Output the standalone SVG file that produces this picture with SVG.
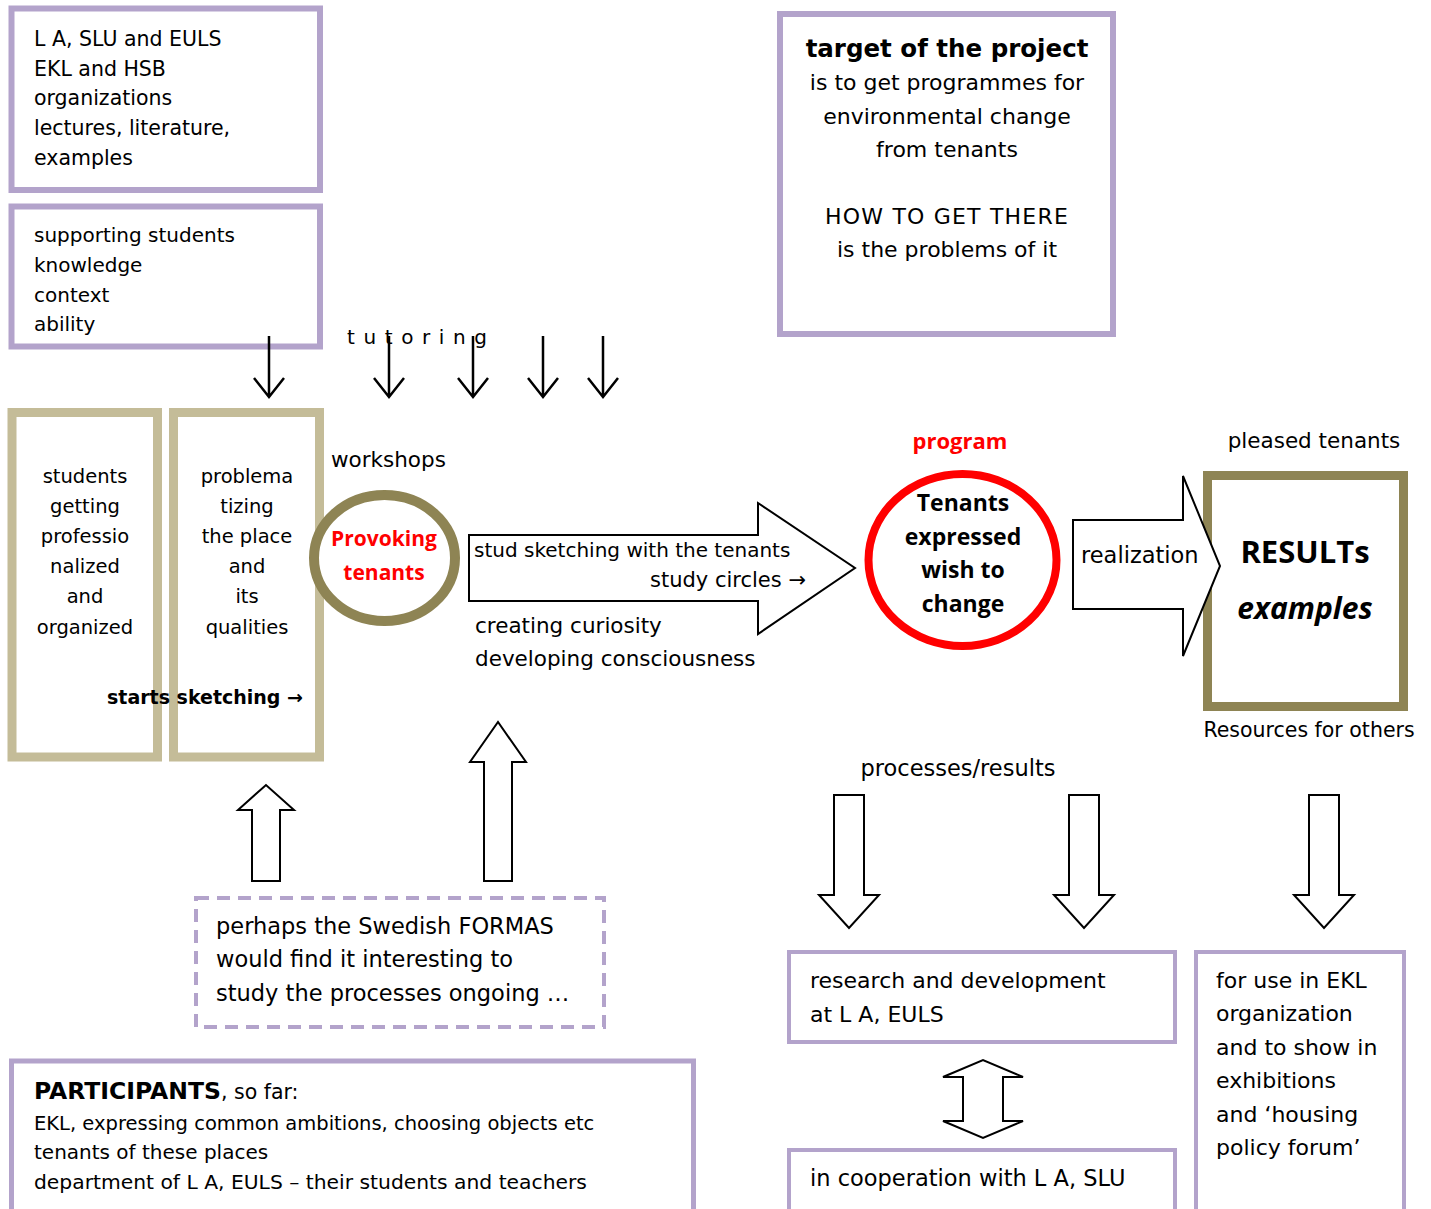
<svg xmlns="http://www.w3.org/2000/svg" width="1431" height="1209" viewBox="0 0 1431 1209">
<style>
text{font-family:"DejaVu Sans","Open Sans",sans-serif;fill:#000}
.os{font-family:"Open Sans","DejaVu Sans",sans-serif}
.b{font-weight:bold}
.red{fill:#ff0000}
.c{text-anchor:middle}
.pbox{fill:#fff;stroke:#b3a3cb;stroke-width:6}
.pbox4{fill:#fff;stroke:#b3a3cb;stroke-width:4}
.tbox{fill:#fff;stroke:#c4bc98;stroke-width:9}
.blk{fill:#fff;stroke:#000;stroke-width:2;stroke-linejoin:miter}
.ln{fill:none;stroke:#000;stroke-width:2.5}
</style>
<rect width="1431" height="1209" fill="#fff"/>

<g id="box-resources" style="font-size:20.5px">
<rect class="pbox" x="11.5" y="8.5" width="308.5" height="181.5"/>
<text x="34" y="46">L A, SLU and EULS</text>
<text x="34" y="75.5">EKL and HSB</text>
<text x="34" y="105">organizations</text>
<text x="34" y="134.5">lectures, literature,</text>
<text x="34" y="164.5">examples</text>
</g>

<g id="box-supporting" style="font-size:20px">
<rect class="pbox" x="11.5" y="206.5" width="308.5" height="140"/>
<text x="34" y="242">supporting students</text>
<text x="34" y="272">knowledge</text>
<text x="34" y="302">context</text>
<text x="34" y="331">ability</text>
</g>

<g id="box-target" style="font-size:22px">
<rect class="pbox" x="780" y="14" width="333" height="320"/>
<text class="b c" style="font-size:24.5px" x="947" y="57">target of the project</text>
<text class="c" x="947" y="90">is to get programmes for</text>
<text class="c" x="947" y="124">environmental change</text>
<text class="c" x="947" y="157">from tenants</text>
<text class="c" x="947" y="224" style="letter-spacing:1.2px">HOW TO GET THERE</text>
<text class="c" x="947" y="257">is the problems of it</text>
</g>

<g id="label-tutoring">
<text x="347" y="344" style="font-size:20px;letter-spacing:8.6px">tutoring</text>
</g>

<g id="box-students" style="font-size:19.5px">
<rect class="tbox" x="12" y="412.5" width="145.5" height="344.5"/>
<text class="c" x="85" y="483">students</text>
<text class="c" x="85" y="513">getting</text>
<text class="c" x="85" y="543">professio</text>
<text class="c" x="85" y="573">nalized</text>
<text class="c" x="85" y="603">and</text>
<text class="c" x="85" y="634">organized</text>
</g>

<g id="box-problematizing" style="font-size:19.5px">
<rect class="tbox" x="173.5" y="412.5" width="146" height="344.5"/>
<text class="c" x="247" y="483">problema</text>
<text class="c" x="247" y="513">tizing</text>
<text class="c" x="247" y="543">the place</text>
<text class="c" x="247" y="573">and</text>
<text class="c" x="247" y="603">its</text>
<text class="c" x="247" y="634">qualities</text>
</g>

<g id="label-starts-sketching">
<text class="b" style="font-size:19px" x="107" y="704">starts sketching →</text>
</g>

<g id="label-workshops">
<text style="font-size:21.5px" x="331" y="467">workshops</text>
</g>

<g id="node-provoking">
<ellipse cx="384.5" cy="558" rx="70.5" ry="63" fill="#fff" stroke="#8e8454" stroke-width="10"/>
<text class="os b red c" style="font-size:21px" x="384" y="546">Provoking</text>
<text class="os b red c" style="font-size:21px" x="384" y="580">tenants</text>
</g>

<g id="label-program">
<text class="os b red c" style="font-size:22px" x="960" y="449">program</text>
</g>

<g id="node-tenants-wish">
<ellipse cx="962.5" cy="560" rx="94" ry="86" fill="#fff" stroke="#ff0000" stroke-width="8"/>
<text class="os b c" style="font-size:23px" x="963" y="511">Tenants</text>
<text class="os b c" style="font-size:23px" x="963" y="545">expressed</text>
<text class="os b c" style="font-size:23px" x="963" y="578">wish to</text>
<text class="os b c" style="font-size:23px" x="963" y="612">change</text>
</g>

<g id="label-pleased">
<text class="c" style="font-size:21.5px" x="1314" y="448">pleased tenants</text>
</g>

<g id="node-results">
<rect x="1207.5" y="475.5" width="196" height="231" fill="#fff" stroke="#8e8454" stroke-width="9"/>
<text class="os b c" style="font-size:31px" x="1305" y="563">RESULTs</text>
<text class="os b c" style="font-size:30px;font-style:italic" x="1305" y="619">examples</text>
</g>

<g id="label-resources-others">
<text class="c" style="font-size:20.5px" x="1309" y="737">Resources for others</text>
</g>

<g id="label-processes">
<text class="c" style="font-size:22.5px" x="958" y="776">processes/results</text>
</g>

<g id="box-rd" style="font-size:22px">
<rect class="pbox4" x="789" y="952" width="386" height="90"/>
<text x="810" y="988">research and development</text>
<text x="810" y="1022">at L A, EULS</text>
</g>

<g id="box-cooperation" style="font-size:22.5px">
<rect class="pbox4" x="789" y="1150" width="386" height="80"/>
<text x="810" y="1186">in cooperation with L A, SLU</text>
</g>

<g id="box-ekl" style="font-size:22px">
<rect class="pbox4" x="1196" y="952" width="208" height="280"/>
<text x="1216" y="988">for use in EKL</text>
<text x="1216" y="1021">organization</text>
<text x="1216" y="1055">and to show in</text>
<text x="1216" y="1088">exhibitions</text>
<text x="1216" y="1122">and ‘housing</text>
<text x="1216" y="1155">policy forum’</text>
</g>

<g id="box-formas" style="font-size:22.5px">
<rect x="196" y="898" width="408" height="129" fill="#fff" stroke="#b3a3cb" stroke-width="4" stroke-dasharray="13 8"/>
<text x="216" y="934">perhaps the Swedish FORMAS</text>
<text x="216" y="967">would find it interesting to</text>
<text x="216" y="1001">study the processes ongoing …</text>
</g>

<g id="box-participants" style="font-size:19.5px">
<rect x="11.5" y="1061" width="682" height="180" fill="#fff" stroke="#b3a3cb" stroke-width="5"/>
<text x="34" y="1099" style="font-size:20.5px"><tspan class="b" style="font-size:23.5px">PARTICIPANTS</tspan>, so far:</text>
<text x="34" y="1130">EKL, expressing common ambitions, choosing objects etc</text>
<text x="34" y="1159" style="font-size:20px">tenants of these places</text>
<text x="34" y="1189" style="font-size:20.3px">department of L A, EULS – their students and teachers</text>
</g>

<g id="connectors">
<path class="ln" d="M269,336 V397 M254,378 L269,397 L284,378"/>
<path class="ln" d="M389,336 V397 M374,378 L389,397 L404,378"/>
<path class="ln" d="M473,336 V397 M458,378 L473,397 L488,378"/>
<path class="ln" d="M543,336 V397 M528,378 L543,397 L558,378"/>
<path class="ln" d="M603,336 V397 M588,378 L603,397 L618,378"/>
<path class="blk" d="M469,535 H758 V503 L855,568 L758,634 V601 H469 Z"/>
<path class="blk" d="M1073,520 H1183 V476 L1220,566 L1183,656 V609 H1073 Z"/>
<path class="blk" d="M252,881 V810 H238 L266,785 L294,810 H280 V881 Z"/>
<path class="blk" d="M484,881 V762 H470 L498,722 L526,762 H512 V881 Z"/>
<path class="blk" d="M834,795 H864 V895 H879 L849,928 L819,895 H834 Z"/>
<path class="blk" d="M1069,795 H1099 V895 H1114 L1084,928 L1054,895 H1069 Z"/>
<path class="blk" d="M1309,795 H1339 V895 H1354 L1324,928 L1294,895 H1309 Z"/>
<path class="blk" d="M963,1077 H943 L983,1060 L1023,1077 H1003 V1121 H1023 L983,1138 L943,1121 H963 Z"/>
</g>

<g id="texts-on-arrows">
<text style="font-size:20px" x="474" y="557">stud sketching with the tenants</text>
<text style="font-size:21px" x="806" y="587" text-anchor="end">study circles →</text>
<text style="font-size:21.5px" x="475" y="633">creating curiosity</text>
<text style="font-size:21.5px" x="475" y="666">developing consciousness</text>
<text style="font-size:22.5px" x="1081" y="563">realization</text>
</g>
</svg>
